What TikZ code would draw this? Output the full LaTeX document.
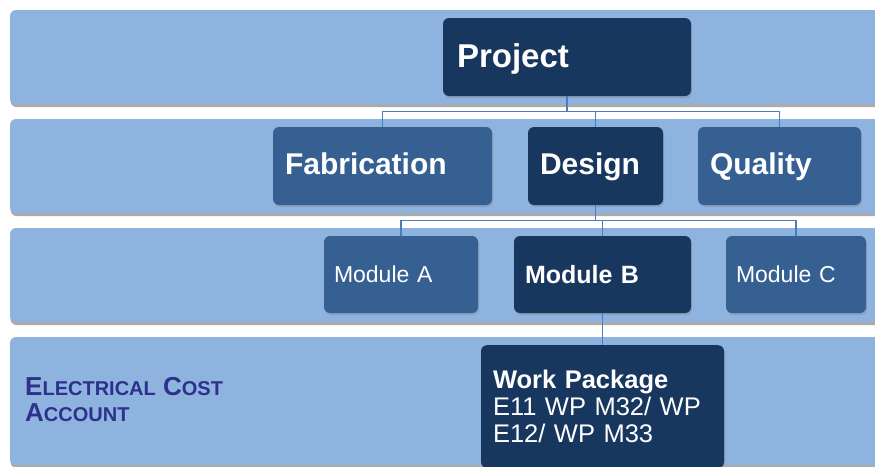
\documentclass[tikz,border=0pt]{standalone}
\usepackage{fontspec}
\setmainfont{Liberation Sans}
\usetikzlibrary{shadows}
\definecolor{bandblue}{RGB}{142,179,223}
\definecolor{midblue}{RGB}{54,96,146}
\definecolor{darkblue}{RGB}{24,55,94}
\definecolor{linkblue}{RGB}{74,126,187}
\definecolor{acctblue}{RGB}{46,49,140}
\newcommand{\fakesc}[2]{{\fontsize{26}{26}\selectfont #1}{\fontsize{20}{26}\selectfont #2}}
\tikzset{
 band/.style={fill=bandblue, rounded corners=6pt, drop shadow={shadow xshift=0.5pt, shadow yshift=-3pt, opacity=0.55, fill=black!60}},
 box/.style={rounded corners=6pt, text=white, align=left, inner xsep=12pt, minimum height=78pt, drop shadow={shadow xshift=1pt, shadow yshift=-2pt, opacity=0.35}},
 dark/.style={box, fill=darkblue},
 mid/.style={box, fill=midblue},
 tier/.style={text depth=4pt, font=\fontsize{30}{33}\selectfont\bfseries},
 link/.style={draw=linkblue, line width=1.2pt},
}
\begin{document}
\begin{tikzpicture}[x=1pt, y=-1pt]
\clip (0,0) rectangle (875,466);
% bands
\fill[band] (10,10) rectangle (895,104);
\fill[band] (10,119) rectangle (895,213);
\fill[band] (10,228) rectangle (895,322);
\fill[band] (10,337) rectangle (895,465);

% top level
\node[dark, inner xsep=14pt, text width=220pt, text depth=2pt, font=\fontsize{33}{36}\selectfont\bfseries] (project) at (567,57) {Project};

% second level
\node[mid, tier, text width=195pt] (fab) at (382.5,166) {Fabrication};
\node[dark, tier, text width=111pt] (design) at (595.5,166) {Design};
\node[mid, tier, text width=139pt] (quality) at (779.5,166) {Quality};

% modules
\node[mid, inner xsep=10pt, minimum height=77pt, text width=134pt, font=\fontsize{23}{26}\selectfont] (modA) at (401,274.5) {Module A};
\node[dark, inner xsep=11pt, minimum height=77pt, text width=155pt, font=\fontsize{25}{28}\selectfont\bfseries] (modB) at (602.5,274.5) {Module B};
\node[mid, inner xsep=10pt, minimum height=77pt, text width=120pt, font=\fontsize{23}{26}\selectfont] (modC) at (796,274.5) {Module C};

% work package
\node[dark, anchor=north, inner ysep=25pt, minimum height=0pt, text width=219pt, font=\fontsize{25.5}{27}\selectfont] (wp) at (602.5,345) {\textbf{Work Package}\\E11 WP M32/ WP\\E12/ WP M33};

\node[anchor=north west, inner sep=0pt, align=left, text=acctblue, font=\bfseries\fontsize{26}{26}\selectfont] (acct) at (25,377.1) {\fakesc{E}{LECTRICAL} \fakesc{C}{OST}\\\fakesc{A}{CCOUNT}};

% connectors
\draw[link] (project.south) -- ++(0,15) -| (fab.north);
\draw[link] (project.south) -- ++(0,15) -| (design.north);
\draw[link] (project.south) -- ++(0,15) -| (quality.north);
\draw[link] (design.south) -- ++(0,15) -| (modA.north);
\draw[link] (design.south) -- ++(0,15) -| (modB.north);
\draw[link] (design.south) -- ++(0,15) -| (modC.north);
\draw[link] (modB.south) -- (wp.north);
\end{tikzpicture}
\end{document}
